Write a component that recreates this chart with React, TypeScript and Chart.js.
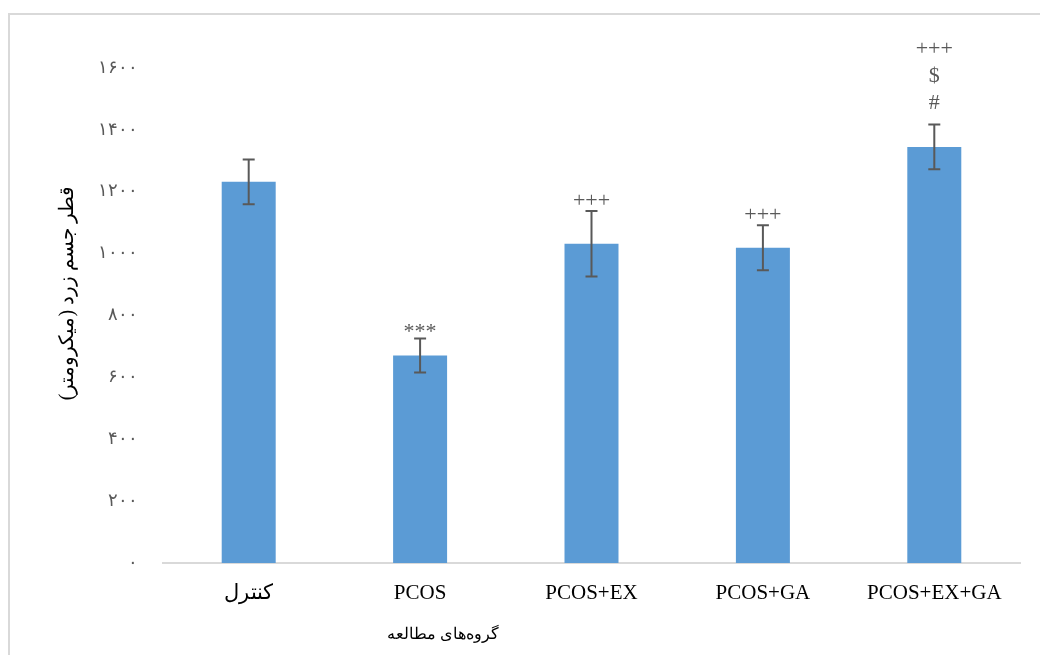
import React, { useEffect, useRef } from "react";
import { Chart, registerables } from "chart.js";

Chart.register(...registerables);

const categories = ["کنترل", "PCOS", "PCOS+EX", "PCOS+GA", "PCOS+EX+GA"];
const means = [1232, 671, 1032, 1019, 1345];
const errors = [72, 55, 106, 73, 72];
const annotations: string[][] = [[], ["***"], ["+++"], ["+++"], ["+++", "$", "#"]];
const yTitle = "قطر جسم زرد (میکرومتر)";
const xTitle = "گروه‌های مطالعه";
const yMin = 0;
const yMax = 1600;
const yStep = 200;

const SERIF = "'Times New Roman', 'Liberation Serif', 'DejaVu Serif', serif";
const GRAY = "#595959";

const toPersian = (n: number) =>
  String(n).replace(/[0-9]/g, (d) => "۰۱۲۳۴۵۶۷۸۹"[Number(d)]);

const overlayPlugin = {
  id: "overlay",
  beforeDraw(chart: any) {
    const ctx = chart.ctx;
    ctx.save();
    ctx.fillStyle = "#ffffff";
    ctx.fillRect(0, 0, chart.width, chart.height);
    ctx.strokeStyle = "#D9D9D9";
    ctx.lineWidth = 2;
    ctx.strokeRect(9, 14, chart.width + 20, chart.height + 20);
    ctx.restore();
  },
  afterDatasetsDraw(chart: any) {
    const ctx = chart.ctx;
    const y = chart.scales.y;
    const meta = chart.getDatasetMeta(0);
    ctx.save();
    ctx.strokeStyle = GRAY;
    ctx.lineWidth = 2;
    meta.data.forEach((bar: any, i: number) => {
      const x = bar.x;
      const top = y.getPixelForValue(means[i] + errors[i]);
      const bot = y.getPixelForValue(means[i] - errors[i]);
      const cap = 6;
      ctx.beginPath();
      ctx.moveTo(x, top);
      ctx.lineTo(x, bot);
      ctx.moveTo(x - cap, top);
      ctx.lineTo(x + cap, top);
      ctx.moveTo(x - cap, bot);
      ctx.lineTo(x + cap, bot);
      ctx.stroke();
      ctx.fillStyle = GRAY;
      ctx.font = `22px ${SERIF}`;
      ctx.textAlign = "center";
      ctx.textBaseline = "middle";
      const lines = annotations[i];
      const n = lines.length;
      const base = n > 1 ? 21 : 10;
      lines.forEach((t, k) => {
        const offset = base + (n - 1 - k) * 27;
        ctx.fillText(t, x, top - offset + (t === "***" ? 4 : 0));
      });
    });
    ctx.fillStyle = "#000000";
    ctx.textAlign = "center";
    ctx.textBaseline = "middle";
    ctx.font = `16px ${SERIF}`;
    ctx.fillText(xTitle, 443, 635);
    ctx.save();
    ctx.translate(68, 293);
    ctx.rotate(-Math.PI / 2);
    ctx.font = `20px ${SERIF}`;
    ctx.fillText(yTitle, 0, 0);
    ctx.restore();
    ctx.restore();
  },
};

export default function App() {
  const ref = useRef<HTMLCanvasElement | null>(null);
  useEffect(() => {
    if (!ref.current) return;
    const chart = new Chart(ref.current, {
      type: "bar",
      data: {
        labels: categories,
        datasets: [
          {
            data: means,
            backgroundColor: "#5B9BD5",
            borderWidth: 0,
            barPercentage: 0.315,
            categoryPercentage: 1,
          },
        ],
      },
      options: {
        responsive: false,
        animation: false,
        devicePixelRatio: 1,
        layout: { padding: { left: 0, right: 20, top: 68, bottom: 0 } },
        plugins: {
          legend: { display: false },
          tooltip: { enabled: false },
          title: { display: false },
        },
        scales: {
          x: {
            grid: { display: false, drawTicks: false },
            border: { display: true, color: "#D9D9D9", width: 2 },
            ticks: {
              color: "#000000",
              padding: 18,
              font: { family: SERIF, size: 21 },
              maxRotation: 0,
              autoSkip: false,
            },
            afterFit: (s: any) => {
              s.height = 92;
            },
          },
          y: {
            min: yMin,
            max: yMax,
            grid: { display: false, drawTicks: false },
            border: { display: false },
            ticks: {
              stepSize: yStep,
              color: GRAY,
              padding: 25,
              font: { family: SERIF, size: 18 },
              callback: (v: any) => toPersian(Number(v)),
            },
            afterFit: (s: any) => {
              s.width = 163;
            },
          },
        },
      },
      plugins: [overlayPlugin],
    });
    return () => chart.destroy();
  }, []);
  return (
    <div style={{ position: "fixed", left: 0, top: 0, width: 1040, height: 655 }}>
      <canvas ref={ref} width={1040} height={655} />
    </div>
  );
}
